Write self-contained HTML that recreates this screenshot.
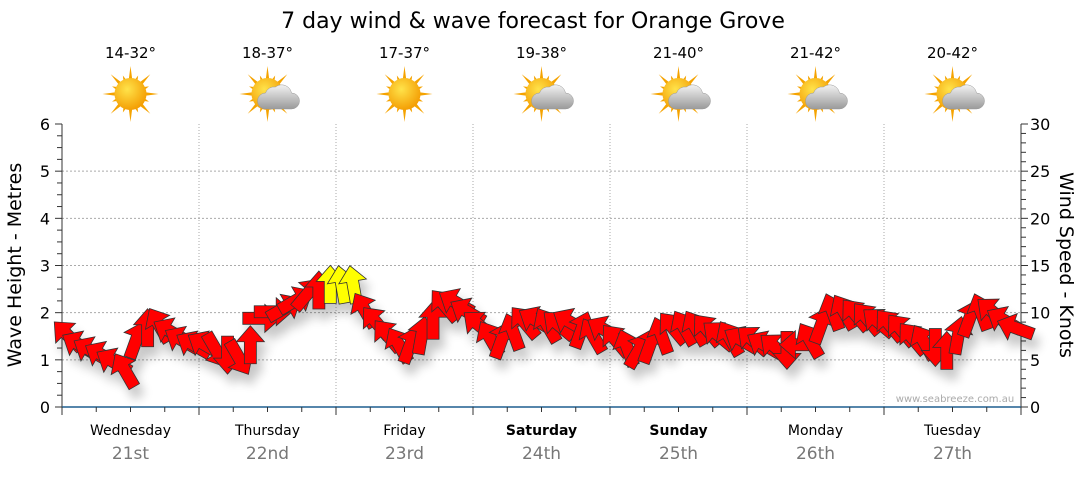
<!DOCTYPE html>
<html><head><meta charset="utf-8"><style>
body{margin:0;background:#fff;font-family:"DejaVu Sans",sans-serif;}
svg text{font-family:"DejaVu Sans","Liberation Sans",sans-serif;}
</style></head><body>
<svg width="1080" height="475" viewBox="0 0 1080 475" xmlns="http://www.w3.org/2000/svg">
<defs>
<filter id="sh" x="-50%" y="-50%" width="200%" height="200%"><feGaussianBlur in="SourceAlpha" stdDeviation="5"/><feOffset dx="5" dy="10"/><feComponentTransfer><feFuncA type="linear" slope="0.22"/></feComponentTransfer><feMerge><feMergeNode/><feMergeNode in="SourceGraphic"/></feMerge></filter>
<radialGradient id="sun" cx="0.4" cy="0.35" r="0.7"><stop offset="0" stop-color="#ffe34a"/><stop offset="1" stop-color="#f39a00"/></radialGradient>
<linearGradient id="cl" x1="0" y1="0" x2="0" y2="1"><stop offset="0" stop-color="#f2f2f2"/><stop offset="1" stop-color="#9a9a9a"/></linearGradient>
</defs>
<text x="533" y="28" font-size="22" text-anchor="middle" fill="#000">7 day wind &amp; wave forecast for Orange Grove</text>
<g id="grid"></g>
<g id="axes"></g>
<g id="top"></g>
<g id="arrows" filter="url(#sh)"></g>
<text x="955" y="402" font-size="10" fill="#aaa" text-anchor="middle">www.seabreeze.com.au</text>
<text transform="translate(21,265) rotate(-90)" font-size="19" text-anchor="middle">Wave Height - Metres</text>
<text transform="translate(1060,265) rotate(90)" font-size="19" text-anchor="middle">Wind Speed - Knots</text>
</svg>
<script>
const days=["Wednesday","Thursday","Friday","Saturday","Sunday","Monday","Tuesday"];
const dates=["21st","22nd","23rd","24th","25th","26th","27th"];
const temps=["14-32°","18-37°","17-37°","19-38°","21-40°","21-42°","20-42°"];
const icons=["sun","cloud","sun","cloud","cloud","cloud","cloud"];
const boldDays=[false,false,false,true,true,false,false];
const leftTicks=[0,1,2,3,4,5,6];
const rightTicks=[0,5,10,15,20,25,30];
const windSpeed=[7.6,6.6,6.0,5.5,4.8,3.9,7.1,8.4,8.7,8.0,7.1,6.6,
6.6,6.0,5.5,5.2,6.6,9.4,10.1,10.5,11.3,12.0,12.4,13.0,
13,13,10.3,9.0,7.6,6.6,6.6,7.6,9.2,10.8,11.1,10.1,
8.7,7.3,7.1,8.0,9.0,9.2,8.7,8.7,9.0,8.2,7.6,8.2,
7.1,6.3,6.0,6.6,7.6,8.4,8.4,8.4,8.2,7.6,7.3,7.1,
7.1,6.6,6.3,6.0,6.6,7.1,8.7,10.1,10.1,9.8,9.4,9.0,
8.7,8.2,7.3,6.9,6.3,6.0,7.6,9.4,10.1,10.1,9.2,8.4];
const windDir=[315,300,300,300,300,330,20,0,330,300,300,300,
300,150,180,150,0,90,90,60,60,40,0,0,
350,350,330,320,320,330,20,10,0,320,300,300,
310,330,20,340,320,300,330,310,300,20,330,300,
320,340,30,20,340,320,330,330,320,310,330,300,
310,300,310,180,270,330,20,340,330,320,320,310,
320,320,320,330,180,0,10,20,340,310,300,290];
const NS="http://www.w3.org/2000/svg";
const X0=62,X1=1021,Y0=407,Y1=124;
const dayW=(X1-X0)/7;
const yM=m=>Y0-(Y0-Y1)*m/6;
const yK=k=>Y0-(Y0-Y1)*k/30;
const xH=h=>X0+dayW*h/24;
function el(p,t,a,txt){const e=document.createElementNS(NS,t);for(const k in a)e.setAttribute(k,a[k]);if(txt!=null)e.textContent=txt;p.appendChild(e);return e;}
const G=document.getElementById('grid'),A=document.getElementById('axes'),T=document.getElementById('top'),R=document.getElementById('arrows');
leftTicks.forEach(m=>{if(m>0&&m<6){const l=el(G,'line',{x1:X0,x2:X1,y1:yM(m),y2:yM(m),stroke:'#aaa','stroke-dasharray':'2,2'});

}
const t=el(A,'text',{x:50,y:yM(m)+6,'font-size':16,'text-anchor':'end'},m);

});
for(let q=0;q<=24;q++){const y=yM(q/4);el(A,'line',{x1:X0-(q%4?5:7),x2:X0,y1:y,y2:y,stroke:'#333'});}
rightTicks.forEach(k=>{const t=el(A,'text',{x:1030,y:yK(k)+6,'font-size':16},k);

});
for(let k=0;k<=30;k++){const y=yK(k);el(A,'line',{x1:X1,x2:X1+(k%5?5:7),y1:y,y2:y,stroke:'#333'});}
el(A,'line',{x1:X0,x2:X0,y1:Y1,y2:Y0,stroke:'#333'});
el(A,'line',{x1:X1,x2:X1,y1:Y1,y2:Y0,stroke:'#333'});
el(A,'line',{x1:X0,x2:X1,y1:Y0,y2:Y0,stroke:'#1f5f8f','stroke-width':1.5});
for(let h=0;h<=168;h+=6){const x=xH(h);el(A,'line',{x1:x,x2:x,y1:Y0,y2:Y0+(h%24?5:8),stroke:'#333'});
if(h%24==0&&h>0&&h<168){const v=el(G,'line',{x1:x,x2:x,y1:Y1,y2:Y0,stroke:'#aaa','stroke-dasharray':'1,2'});

}}
days.forEach((d,i)=>{const cx=X0+dayW*(i+0.5);
const t=el(T,'text',{x:cx,y:435,'font-size':14,'text-anchor':'middle','font-weight':boldDays[i]?'bold':'normal'},d);


const dt=el(T,'text',{x:cx,y:459,'font-size':17,'text-anchor':'middle',fill:'#777'},dates[i]);


const tp=el(T,'text',{x:cx,y:58,'font-size':15,'text-anchor':'middle'},temps[i]);


const g=el(T,'g',{transform:`translate(${cx},94)`});


for(let r=0;r<16;r++){const a=r*Math.PI/8,L=r%2?20:28;el(g,'polygon',{points:`${Math.cos(a)*L},${Math.sin(a)*L} ${Math.cos(a+0.15)*13},${Math.sin(a+0.15)*13} ${Math.cos(a-0.15)*13},${Math.sin(a-0.15)*13}`,fill:'#f5a300'});}
el(g,'circle',{r:16,fill:'url(#sun)'});
if(icons[i]=='cloud'){el(g,'path',{d:'M-2,15 h26 a8,8 0 0 0 0,-16 a10,10 0 0 0 -16,-6 a9,9 0 0 0 -10,6 a8,8 0 0 0 0,16z',fill:'url(#cl)',stroke:'#999','stroke-width':0.5});}
});
windSpeed.forEach((k,i)=>{const x=X0+dayW*(i+0.5)/12,y=yK(k);
const p=el(R,'polygon',{points:'-6,19 6,19 6,-3 14,-3 0,-19 -14,-3 -6,-3',transform:`translate(${x},${y}) rotate(${windDir[i]})`,fill:k>=12.5?'#ffff00':'#ff0000',stroke:'#333','stroke-width':0.8});

});
</script>
</body></html>
